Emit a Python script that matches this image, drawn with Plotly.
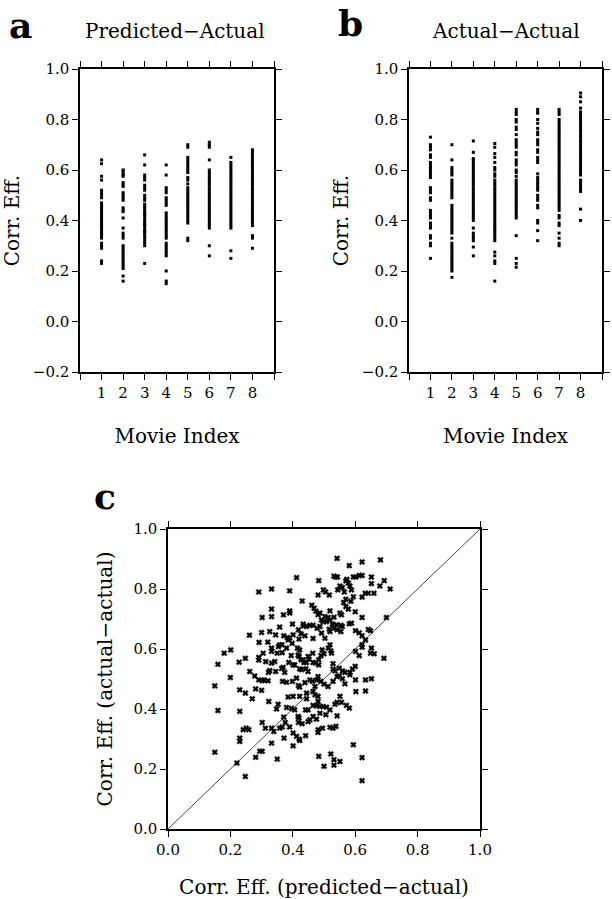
import plotly.graph_objects as go

# ---------------- data ----------------
movie_index = [1, 2, 3, 4, 5, 6, 7, 8]

pred_actual = {
    1: [0.64, 0.625, 0.575, 0.56, 0.52, 0.51, 0.50, 0.49, 0.47, 0.46, 0.455, 0.45, 0.44, 0.43, 0.42,
        0.41, 0.40, 0.39, 0.385, 0.38, 0.37, 0.36, 0.35, 0.345, 0.34, 0.33, 0.31, 0.30, 0.29, 0.24, 0.23],
    2: [0.60, 0.595, 0.585, 0.58, 0.575, 0.55, 0.54, 0.535, 0.51, 0.50, 0.49, 0.48, 0.45, 0.44, 0.435,
        0.41, 0.37, 0.35, 0.34, 0.33, 0.30, 0.29, 0.28, 0.27, 0.26, 0.25, 0.24, 0.23, 0.22, 0.21, 0.18, 0.16],
    3: [0.66, 0.62, 0.58, 0.57, 0.56, 0.54, 0.53, 0.52, 0.50, 0.49, 0.48, 0.465, 0.455, 0.45, 0.44, 0.43,
        0.425, 0.42, 0.41, 0.40, 0.39, 0.385, 0.38, 0.37, 0.36, 0.355, 0.35, 0.34, 0.33, 0.32, 0.31, 0.30, 0.23],
    4: [0.62, 0.58, 0.53, 0.52, 0.51, 0.49, 0.48, 0.47, 0.46, 0.43, 0.42, 0.41, 0.40, 0.39, 0.38, 0.37,
        0.36, 0.35, 0.34, 0.33, 0.31, 0.30, 0.29, 0.28, 0.27, 0.26, 0.20, 0.16, 0.15],
    5: [0.70, 0.69, 0.65, 0.64, 0.63, 0.62, 0.61, 0.60, 0.59, 0.57, 0.56, 0.545, 0.53, 0.52, 0.51, 0.50,
        0.49, 0.48, 0.47, 0.46, 0.45, 0.44, 0.43, 0.42, 0.41, 0.40, 0.39, 0.33, 0.32],
    6: [0.71, 0.70, 0.69, 0.64, 0.60, 0.59, 0.58, 0.57, 0.56, 0.55, 0.54, 0.53, 0.52, 0.51, 0.50, 0.49,
        0.48, 0.47, 0.46, 0.45, 0.44, 0.43, 0.42, 0.41, 0.40, 0.39, 0.38, 0.37, 0.30, 0.26],
    7: [0.65, 0.63, 0.62, 0.61, 0.60, 0.59, 0.58, 0.57, 0.56, 0.55, 0.54, 0.53, 0.52, 0.51, 0.50, 0.49,
        0.48, 0.47, 0.46, 0.45, 0.44, 0.43, 0.42, 0.41, 0.40, 0.39, 0.38, 0.37, 0.28, 0.25],
    8: [0.68, 0.67, 0.66, 0.65, 0.64, 0.63, 0.62, 0.61, 0.60, 0.59, 0.58, 0.57, 0.56, 0.55, 0.54, 0.53,
        0.52, 0.51, 0.50, 0.49, 0.48, 0.47, 0.46, 0.45, 0.44, 0.43, 0.42, 0.41, 0.40, 0.39, 0.38, 0.34,
        0.33, 0.29],
}

actual_actual = {
    1: [0.73, 0.70, 0.69, 0.68, 0.66, 0.65, 0.63, 0.62, 0.61, 0.60, 0.59, 0.58, 0.57, 0.53, 0.52, 0.51,
        0.49, 0.48, 0.44, 0.43, 0.42, 0.41, 0.39, 0.38, 0.37, 0.34, 0.33, 0.31, 0.30, 0.25],
    2: [0.70, 0.64, 0.61, 0.60, 0.59, 0.58, 0.56, 0.55, 0.54, 0.53, 0.52, 0.51, 0.50, 0.49, 0.46, 0.45,
        0.44, 0.43, 0.42, 0.41, 0.40, 0.39, 0.38, 0.37, 0.36, 0.35, 0.33, 0.31, 0.30, 0.29, 0.28, 0.27,
        0.26, 0.25, 0.24, 0.23, 0.22, 0.21, 0.20, 0.175],
    3: [0.715, 0.67, 0.645, 0.64, 0.63, 0.62, 0.61, 0.60, 0.59, 0.58, 0.57, 0.56, 0.55, 0.54, 0.53, 0.52,
        0.51, 0.50, 0.49, 0.48, 0.47, 0.46, 0.45, 0.44, 0.43, 0.42, 0.41, 0.40, 0.37, 0.35, 0.34, 0.33,
        0.32, 0.295, 0.26],
    4: [0.705, 0.69, 0.665, 0.65, 0.63, 0.61, 0.60, 0.585, 0.575, 0.56, 0.55, 0.54, 0.53, 0.52, 0.51,
        0.50, 0.49, 0.48, 0.47, 0.46, 0.45, 0.44, 0.43, 0.42, 0.41, 0.40, 0.39, 0.38, 0.37, 0.36, 0.35,
        0.34, 0.33, 0.32, 0.275, 0.26, 0.24, 0.23, 0.16],
    5: [0.84, 0.83, 0.82, 0.80, 0.79, 0.77, 0.76, 0.74, 0.72, 0.71, 0.70, 0.69, 0.67, 0.66, 0.64, 0.63,
        0.62, 0.60, 0.59, 0.575, 0.56, 0.55, 0.54, 0.53, 0.52, 0.51, 0.50, 0.49, 0.48, 0.47, 0.46, 0.45,
        0.44, 0.43, 0.42, 0.41, 0.34, 0.25, 0.23, 0.215],
    6: [0.84, 0.83, 0.825, 0.80, 0.785, 0.765, 0.75, 0.74, 0.72, 0.71, 0.70, 0.68, 0.67, 0.65, 0.64,
        0.63, 0.585, 0.57, 0.56, 0.55, 0.54, 0.53, 0.52, 0.50, 0.49, 0.48, 0.46, 0.45, 0.40, 0.39, 0.36,
        0.32],
    7: [0.84, 0.83, 0.82, 0.80, 0.79, 0.78, 0.77, 0.76, 0.75, 0.74, 0.73, 0.72, 0.71, 0.70, 0.69, 0.68,
        0.67, 0.66, 0.65, 0.64, 0.63, 0.62, 0.61, 0.60, 0.59, 0.58, 0.57, 0.56, 0.55, 0.54, 0.53, 0.52,
        0.51, 0.50, 0.49, 0.48, 0.47, 0.46, 0.45, 0.44, 0.42, 0.41, 0.39, 0.38, 0.35, 0.33, 0.31, 0.30],
    8: [0.905, 0.89, 0.87, 0.845, 0.83, 0.82, 0.81, 0.80, 0.79, 0.78, 0.77, 0.76, 0.75, 0.74, 0.73, 0.72,
        0.71, 0.70, 0.69, 0.68, 0.67, 0.66, 0.65, 0.64, 0.63, 0.62, 0.61, 0.60, 0.59, 0.58, 0.56, 0.55,
        0.54, 0.53, 0.52, 0.515, 0.445, 0.40],
}

# panel c : (predicted-actual, actual-actual) pairs
c_pred = [
    0.542, 0.581, 0.622, 0.681, 0.412, 0.483, 0.532, 0.537, 0.543, 0.573, 0.594, 0.602, 0.613, 0.622,
    0.652, 0.693, 0.652, 0.679, 0.712, 0.632, 0.642, 0.660, 0.291, 0.332, 0.390, 0.498, 0.505, 0.517,
    0.481, 0.544, 0.551, 0.559, 0.570, 0.578, 0.583, 0.588, 0.565, 0.594, 0.622, 0.570, 0.563, 0.586,
    0.430, 0.332, 0.390, 0.390, 0.370, 0.332, 0.461, 0.468, 0.474, 0.481, 0.487, 0.519, 0.503, 0.513,
    0.532, 0.551, 0.556, 0.570, 0.578, 0.600, 0.622, 0.700, 0.302, 0.261, 0.300, 0.399, 0.433, 0.435,
    0.444, 0.455, 0.465, 0.478, 0.487, 0.492, 0.497, 0.508, 0.519, 0.527, 0.540, 0.554, 0.559, 0.581,
    0.588, 0.426, 0.439, 0.465, 0.492, 0.503, 0.517, 0.519, 0.532, 0.542, 0.554, 0.601, 0.613, 0.622,
    0.642, 0.649, 0.371, 0.383, 0.390, 0.398, 0.420, 0.358, 0.365, 0.320, 0.292, 0.201, 0.180, 0.160,
    0.150, 0.200, 0.228, 0.248, 0.262, 0.291, 0.291, 0.278, 0.291, 0.302, 0.308, 0.322, 0.326, 0.332,
    0.332, 0.332, 0.342, 0.345, 0.350, 0.354, 0.366, 0.364, 0.369, 0.374, 0.387, 0.395, 0.401, 0.406,
    0.415, 0.422, 0.417, 0.420, 0.426, 0.433, 0.436, 0.444, 0.449, 0.452, 0.422, 0.428, 0.442, 0.449,
    0.464, 0.465, 0.472, 0.483, 0.483, 0.490, 0.494, 0.500, 0.514, 0.519, 0.524, 0.529, 0.529, 0.535,
    0.549, 0.559, 0.567, 0.591, 0.600, 0.601, 0.613, 0.622, 0.622, 0.633, 0.652, 0.649, 0.661, 0.692,
    0.601, 0.633, 0.652, 0.602, 0.633, 0.583, 0.583, 0.522, 0.230, 0.248, 0.270, 0.321, 0.367, 0.380,
    0.399, 0.412, 0.418, 0.422, 0.439, 0.455, 0.463, 0.471, 0.476, 0.481, 0.490, 0.500, 0.513, 0.529,
    0.542, 0.549, 0.559, 0.567, 0.300, 0.281, 0.323, 0.348, 0.353, 0.380, 0.396, 0.406, 0.417, 0.420,
    0.385, 0.401, 0.422, 0.444, 0.444, 0.465, 0.471, 0.481, 0.481, 0.465, 0.476, 0.487, 0.497, 0.508,
    0.519, 0.535, 0.542, 0.551, 0.556, 0.572, 0.581, 0.542, 0.441, 0.449, 0.465, 0.476, 0.487, 0.506,
    0.495, 0.519, 0.529, 0.538, 0.481, 0.481, 0.230, 0.230, 0.230, 0.241, 0.251, 0.259, 0.248, 0.221,
    0.150, 0.160, 0.281, 0.294, 0.302, 0.302, 0.312, 0.332, 0.332, 0.339, 0.350, 0.358, 0.366, 0.371,
    0.376, 0.390, 0.372, 0.401, 0.401, 0.412, 0.420, 0.422, 0.441, 0.449, 0.455, 0.430, 0.418, 0.483,
    0.500, 0.522, 0.532, 0.532, 0.551, 0.594, 0.622, 0.622, 0.358, 0.345, 0.418, 0.401, 0.380, 0.385,
    0.326, 0.305, 0.313,
]
c_act = [
    0.902, 0.878, 0.890, 0.897, 0.838, 0.828, 0.843, 0.840, 0.840, 0.832, 0.840, 0.840, 0.845, 0.845,
    0.840, 0.828, 0.818, 0.810, 0.800, 0.786, 0.786, 0.786, 0.790, 0.800, 0.794, 0.797, 0.790, 0.780,
    0.780, 0.797, 0.810, 0.805, 0.827, 0.820, 0.810, 0.797, 0.790, 0.774, 0.773, 0.766, 0.755, 0.759,
    0.760, 0.733, 0.727, 0.720, 0.714, 0.708, 0.746, 0.736, 0.726, 0.714, 0.720, 0.727, 0.708, 0.705,
    0.706, 0.720, 0.714, 0.741, 0.733, 0.724, 0.705, 0.705, 0.705, 0.646, 0.655, 0.683, 0.683, 0.677,
    0.675, 0.679, 0.679, 0.669, 0.675, 0.697, 0.691, 0.691, 0.697, 0.683, 0.681, 0.679, 0.675, 0.684,
    0.686, 0.651, 0.644, 0.635, 0.653, 0.636, 0.666, 0.658, 0.669, 0.664, 0.658, 0.661, 0.654, 0.644,
    0.665, 0.661, 0.644, 0.638, 0.636, 0.619, 0.633, 0.614, 0.614, 0.623, 0.622, 0.597, 0.586, 0.549,
    0.477, 0.505, 0.556, 0.569, 0.525, 0.572, 0.563, 0.510, 0.497, 0.494, 0.497, 0.522, 0.528, 0.603,
    0.592, 0.553, 0.558, 0.525, 0.586, 0.608, 0.588, 0.535, 0.539, 0.522, 0.555, 0.578, 0.547, 0.547,
    0.603, 0.597, 0.580, 0.575, 0.564, 0.564, 0.555, 0.555, 0.575, 0.566, 0.534, 0.531, 0.534, 0.525,
    0.586, 0.555, 0.553, 0.564, 0.547, 0.578, 0.597, 0.584, 0.603, 0.614, 0.586, 0.551, 0.533, 0.527,
    0.536, 0.527, 0.522, 0.533, 0.542, 0.592, 0.578, 0.614, 0.606, 0.630, 0.603, 0.586, 0.584, 0.569,
    0.497, 0.497, 0.501, 0.458, 0.460, 0.522, 0.514, 0.594, 0.464, 0.453, 0.434, 0.494, 0.492, 0.489,
    0.492, 0.503, 0.478, 0.473, 0.488, 0.497, 0.492, 0.475, 0.497, 0.508, 0.492, 0.483, 0.475, 0.492,
    0.508, 0.510, 0.501, 0.484, 0.462, 0.467, 0.425, 0.400, 0.416, 0.405, 0.402, 0.397, 0.375, 0.370,
    0.440, 0.442, 0.442, 0.453, 0.434, 0.458, 0.447, 0.442, 0.425, 0.412, 0.410, 0.409, 0.408, 0.406,
    0.397, 0.416, 0.422, 0.442, 0.422, 0.412, 0.403, 0.377, 0.397, 0.397, 0.375, 0.366, 0.386, 0.381,
    0.336, 0.339, 0.336, 0.342, 0.331, 0.322, 0.392, 0.303, 0.292, 0.331, 0.336, 0.331, 0.175, 0.220,
    0.256, 0.395, 0.239, 0.259, 0.259, 0.355, 0.336, 0.286, 0.336, 0.325, 0.233, 0.336, 0.340, 0.373,
    0.355, 0.340, 0.303, 0.277, 0.320, 0.309, 0.300, 0.295, 0.311, 0.358, 0.364, 0.351, 0.355, 0.242,
    0.209, 0.250, 0.231, 0.213, 0.225, 0.281, 0.238, 0.161, 0.673, 0.647, 0.664, 0.647, 0.603, 0.630,
    0.658, 0.586, 0.558,
]

y_ticks = [-0.2, 0.0, 0.2, 0.4, 0.6, 0.8, 1.0]
y_ticklabels = ["\u22120.2", "0.0", "0.2", "0.4", "0.6", "0.8", "1.0"]
x_ticks_ab = [0, 1, 2, 3, 4, 5, 6, 7, 8, 9]
x_ticklabels_ab = ["", "1", "2", "3", "4", "5", "6", "7", "8", ""]
c_ticks = [0.0, 0.2, 0.4, 0.6, 0.8, 1.0]
c_ticklabels = ["0.0", "0.2", "0.4", "0.6", "0.8", "1.0"]
diag = [0.0, 1.0]

# ---------------- figure ----------------
W, H = 612, 899


def fx(px):
    return px / W


def fy(py):
    return 1 - py / H


SERIF = "DejaVu Serif"
TICKFONT = dict(family=SERIF, size=15, color="black")
TITLEFONT = dict(family=SERIF, size=20, color="black")

fig = go.Figure()

for i, src in enumerate([pred_actual, actual_actual]):
    xs, ys = [], []
    for m in movie_index:
        xs += [m] * len(src[m])
        ys += src[m]
    fig.add_trace(go.Scatter(
        x=xs, y=ys, mode="markers", xaxis="x" if i == 0 else "x2",
        yaxis="y" if i == 0 else "y2",
        marker=dict(symbol="square", size=3, color="black", line=dict(width=0)),
        showlegend=False, hoverinfo="skip"))

fig.add_trace(go.Scatter(
    x=diag, y=diag, mode="lines", xaxis="x3", yaxis="y3",
    line=dict(color="#444444", width=1), showlegend=False, hoverinfo="skip"))
fig.add_trace(go.Scatter(
    x=c_pred, y=c_act, mode="markers", xaxis="x3", yaxis="y3",
    marker=dict(symbol="x", size=5, color="black", line=dict(width=0.6, color="#222")),
    showlegend=False, hoverinfo="skip"))

common = dict(showgrid=False, zeroline=False, showline=True, linecolor="black", linewidth=1.5,
              mirror="ticks", ticks="outside", ticklen=6, tickwidth=1, tickcolor="black",
              tickfont=TICKFONT, automargin=False)

top_dom = [fy(372), fy(69)]
fig.update_layout(
    template="none",
    width=W, height=H, margin=dict(l=0, r=0, t=0, b=0, pad=0, autoexpand=False),
    paper_bgcolor="white", plot_bgcolor="white",
    xaxis=dict(domain=[fx(80), fx(274)], range=[0, 9], tickvals=x_ticks_ab, ticktext=x_ticklabels_ab,
               anchor="y", title=dict(text="Movie Index", font=TITLEFONT, standoff=28), **common),
    yaxis=dict(domain=top_dom, range=[-0.2, 1.0], tickvals=y_ticks, ticktext=y_ticklabels,
               anchor="x", title=dict(text="Corr. Eff.", font=TITLEFONT, standoff=15), **common),
    xaxis2=dict(domain=[fx(409), fx(602)], range=[0, 9], tickvals=x_ticks_ab, ticktext=x_ticklabels_ab,
                anchor="y2", title=dict(text="Movie Index", font=TITLEFONT, standoff=28), **common),
    yaxis2=dict(domain=top_dom, range=[-0.2, 1.0], tickvals=y_ticks, ticktext=y_ticklabels,
                anchor="x2", title=dict(text="Corr. Eff.", font=TITLEFONT, standoff=8), **common),
    xaxis3=dict(domain=[fx(168), fx(480)], range=[0, 1], tickvals=c_ticks, ticktext=c_ticklabels,
                anchor="y3", title=dict(text="Corr. Eff. (predicted\u2212actual)", font=TITLEFONT, standoff=22),
                **common),
    yaxis3=dict(domain=[fy(829), fy(529)], range=[0, 1], tickvals=c_ticks, ticktext=c_ticklabels,
                anchor="x3", title=dict(text="Corr. Eff. (actual\u2212actual)", font=TITLEFONT, standoff=15),
                **common),
)

LABELFONT = dict(family="DejaVu Serif", size=36, color="black")
for txt, px, py in [("a", 20, 25), ("b", 350, 23), ("c", 105, 496)]:
    fig.add_annotation(text="<b>%s</b>" % txt, x=fx(px), y=fy(py), xref="paper", yref="paper",
                       showarrow=False, font=LABELFONT, xanchor="center", yanchor="middle")
for txt, px, py in [("Predicted\u2212Actual", 175, 31), ("Actual\u2212Actual", 506, 31)]:
    fig.add_annotation(text=txt, x=fx(px), y=fy(py), xref="paper", yref="paper",
                       showarrow=False, font=dict(family=SERIF, size=20, color="black"),
                       xanchor="center", yanchor="middle")

# remove the page's default body margin so the figure sits at the window's corner
fig.write_html("out.html", config={"displayModeBar": False},
               post_script="document.body.style.margin='0';")
